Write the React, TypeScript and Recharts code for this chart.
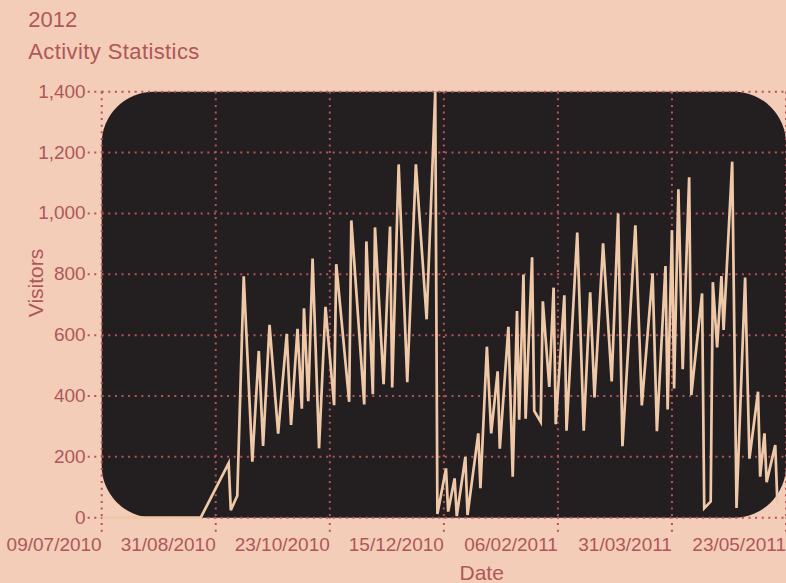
import React from "react";
import { LineChart, Line, XAxis, YAxis, CartesianGrid, ReferenceArea } from "recharts";

// visitor counts per date
const dates = [
  "2010-07-09", "2010-08-24", "2010-09-06", "2010-09-07", "2010-09-10", "2010-09-13",
  "2010-09-17", "2010-09-20", "2010-09-22", "2010-09-25", "2010-09-29", "2010-10-03",
  "2010-10-05", "2010-10-08", "2010-10-10", "2010-10-11", "2010-10-13", "2010-10-15",
  "2010-10-18", "2010-10-21", "2010-10-25", "2010-10-26", "2010-11-01", "2010-11-02",
  "2010-11-08", "2010-11-09", "2010-11-12", "2010-11-13", "2010-11-17", "2010-11-20",
  "2010-11-21", "2010-11-24", "2010-11-28", "2010-12-02", "2010-12-07", "2010-12-11",
  "2010-12-12", "2010-12-16", "2010-12-17", "2010-12-20", "2010-12-21", "2010-12-25",
  "2010-12-26", "2010-12-31", "2011-01-01", "2011-01-04", "2011-01-06", "2011-01-09",
  "2011-01-10", "2011-01-14", "2011-01-16", "2011-01-18", "2011-01-19", "2011-01-21",
  "2011-01-22", "2011-01-25", "2011-01-26", "2011-01-29", "2011-01-30", "2011-02-02",
  "2011-02-04", "2011-02-05", "2011-02-09", "2011-02-10", "2011-02-15", "2011-02-18",
  "2011-02-21", "2011-02-23", "2011-02-27", "2011-03-03", "2011-03-06", "2011-03-08",
  "2011-03-14", "2011-03-17", "2011-03-22", "2011-03-24", "2011-03-28", "2011-03-29",
  "2011-03-31", "2011-04-01", "2011-04-03", "2011-04-05", "2011-04-08", "2011-04-09",
  "2011-04-14", "2011-04-15", "2011-04-18", "2011-04-19", "2011-04-21", "2011-04-23",
  "2011-04-24", "2011-04-28", "2011-04-30", "2011-05-04", "2011-05-06", "2011-05-10",
  "2011-05-11", "2011-05-13", "2011-05-14", "2011-05-18", "2011-05-19",
];

const visitors = [
  0, 0, 179, 25, 72, 793,
  184, 548, 236, 634, 276, 604,
  305, 621, 358, 688, 383, 852,
  228, 693, 370, 833, 381, 977,
  372, 908, 406, 954, 439, 957,
  428, 1161, 445, 1161, 652, 1400,
  12, 162, 20, 129, 5, 200,
  9, 277, 97, 562, 277, 481,
  227, 627, 135, 679, 322, 799,
  325, 856, 351, 315, 711, 430,
  756, 307, 731, 286, 937, 286,
  741, 395, 902, 448, 1000, 235,
  961, 369, 803, 284, 827, 356,
  945, 425, 1079, 488, 1119, 403,
  737, 31, 53, 774, 560, 794,
  617, 1170, 32, 789, 194, 414,
  135, 277, 117, 239, 47,
];

const xTicks = ["2010-07-09", "2010-08-31", "2010-10-23", "2010-12-15", "2011-02-06", "2011-03-31", "2011-05-23"];
const yTicks = [0, 200, 400, 600, 800, 1000, 1200, 1400];

const BG = "#f3cdb7";
const PANEL = "#231f20";
const LINE = "#efc8a8";
const GRID = "#b4545a";
const TEXT = "#b0575a";
const FONT = "'Liberation Sans', Arial, Helvetica, sans-serif";

const toTs = (s: string) => {
  const [y, m, d] = s.split("-").map(Number);
  return Date.UTC(y, m - 1, d);
};
const pad = (n: number) => String(n).padStart(2, "0");
const fmtDate = (ts: number) => {
  const d = new Date(ts);
  return `${pad(d.getUTCDate())}/${pad(d.getUTCMonth() + 1)}/${d.getUTCFullYear()}`;
};

const data = dates.map((d, i) => ({ t: toTs(d), visitors: visitors[i] }));
const xTickValues = xTicks.map(toTs);
const dotted = { stroke: GRID, strokeWidth: 2, strokeDasharray: "2 4.6" };

function XTick(props: any) {
  const { x, y, payload } = props;
  return (
    <text x={x} y={y} dy={17.3} textAnchor="end" fill={TEXT} fontSize={19} fontFamily={FONT}>
      {fmtDate(payload.value)}
    </text>
  );
}

function YTick(props: any) {
  const { x, y, payload } = props;
  return (
    <text x={x} y={y} dy={6} textAnchor="end" fill={TEXT} fontSize={19} fontFamily={FONT}>
      {Number(payload.value).toLocaleString("en-US")}
    </text>
  );
}

function Panel(props: any) {
  const { x, y, width, height } = props;
  return <rect x={x} y={y} width={width} height={height} rx={52} ry={52} fill={PANEL} />;
}

export default function App() {
  return (
    <div style={{ position: "fixed", left: 0, top: 0, width: 786, height: 583, background: BG, overflow: "hidden" }}>
      <LineChart width={786} height={583} data={data} margin={{ top: 91.7, right: 0, bottom: 0, left: 0 }}>
        <ReferenceArea
          x1={xTickValues[0]}
          x2={xTickValues[xTickValues.length - 1]}
          y1={0}
          y2={1400}
          shape={Panel}
          zIndex={-200}
        />
        <CartesianGrid {...dotted} />
        <XAxis
          dataKey="t"
          type="number"
          domain={[xTickValues[0], xTickValues[xTickValues.length - 1]]}
          ticks={xTickValues}
          height={65.3}
          tickSize={14}
          tickLine={dotted}
          axisLine={false}
          tick={<XTick />}
          interval={0}
        />
        <YAxis
          type="number"
          domain={[0, 1400]}
          ticks={yTicks}
          width={101.7}
          tickSize={14}
          tickLine={dotted}
          axisLine={false}
          tick={<YTick />}
          interval={0}
        />
        <Line
          type="linear"
          dataKey="visitors"
          stroke={LINE}
          strokeWidth={2.7}
          dot={false}
          activeDot={false}
          isAnimationActive={false}
        />
      </LineChart>
      <svg width={786} height={583} style={{ position: "absolute", left: 0, top: 0, pointerEvents: "none" }}>
        <g fill={TEXT} fontFamily={FONT}>
          <text x={28.3} y={27.3} fontSize={22}>2012</text>
          <text x={28.3} y={58.5} fontSize={22} letterSpacing={0.4}>Activity Statistics</text>
          <text x={481.7} y={580} fontSize={21} textAnchor="middle">Date</text>
          <text x={43} y={283} fontSize={21} textAnchor="middle" transform="rotate(-90 43 283)">Visitors</text>
        </g>
      </svg>
    </div>
  );
}
